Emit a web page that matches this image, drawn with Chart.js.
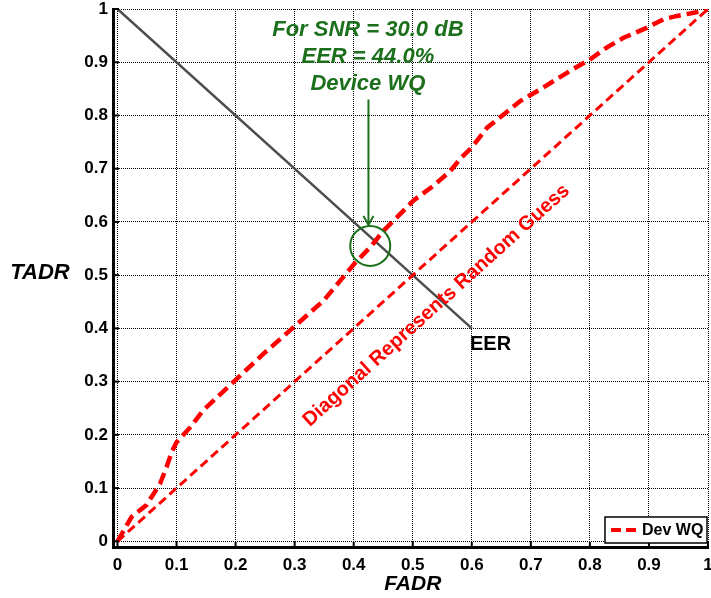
<!DOCTYPE html>
<html>
<head>
<meta charset="utf-8">
<script src="https://cdn.jsdelivr.net/npm/chart.js@4.4.1/dist/chart.umd.min.js"></script>
<style>
  body { margin: 0; background: #fff; }
  #wrap { width: 711px; height: 598px; }
</style>
</head>
<body>
<div id="wrap"><canvas id="roc" width="711" height="598"></canvas></div>
<script>
// ! Data
const fadr = [0, 0.024, 0.049, 0.061, 0.072, 0.083, 0.092, 0.1, 0.123, 0.145, 0.196, 0.247, 0.298, 0.349, 0.4, 0.43, 0.45, 0.479, 0.501, 0.535, 0.564, 0.58, 0.6, 0.626, 0.654, 0.682, 0.716, 0.739, 0.767, 0.801, 0.829, 0.857, 0.897, 0.925, 0.948, 0.976, 0.996, 1];
const tadr = [0, 0.046, 0.068, 0.089, 0.108, 0.139, 0.168, 0.186, 0.214, 0.246, 0.299, 0.352, 0.402, 0.452, 0.52, 0.555, 0.583, 0.615, 0.64, 0.668, 0.696, 0.718, 0.74, 0.777, 0.802, 0.827, 0.849, 0.865, 0.884, 0.906, 0.928, 0.946, 0.965, 0.981, 0.987, 0.993, 0.998, 1];
const diagX = [0, 1];
const diagY = [0, 1];
const eerX = [0, 0.6];
const eerY = [1, 0.4];
const eerPoint = [0.428, 0.555];

const xTicks = [0, 0.1, 0.2, 0.3, 0.4, 0.5, 0.6, 0.7, 0.8, 0.9, 1];
const yTicks = [0, 0.1, 0.2, 0.3, 0.4, 0.5, 0.6, 0.7, 0.8, 0.9, 1];
const tickLabels = ["0", "0.1", "0.2", "0.3", "0.4", "0.5", "0.6", "0.7", "0.8", "0.9", "1"];

const noteLines = ["For SNR = 30.0 dB", "EER = 44.0%", "Device WQ"];

const toPoints = (xs, ys) => xs.map((x, i) => ({ x: x, y: ys[i] }));

// ! Extra drawing: annotation, legend, axis names
const extras = {
  id: "extras",
  afterDraw(chart) {
    const { ctx, chartArea, scales } = chart;
    const sx = scales.x;
    const sy = scales.y;
    ctx.save();

    // small inward ticks
    ctx.strokeStyle = "#000";
    ctx.lineWidth = 2;
    xTicks.forEach((v) => {
      let px = sx.getPixelForValue(v);
      ctx.beginPath();
      ctx.moveTo(px, chartArea.bottom);
      ctx.lineTo(px, chartArea.bottom - 5);
      ctx.stroke();
    });
    yTicks.forEach((v) => {
      let py = sy.getPixelForValue(v);
      ctx.beginPath();
      ctx.moveTo(chartArea.left, py);
      ctx.lineTo(chartArea.left + 6, py);
      ctx.stroke();
    });

    // green circle + arrow + note
    let cx = sx.getPixelForValue(eerPoint[0]);
    let cy = sy.getPixelForValue(eerPoint[1]);
    ctx.strokeStyle = "#1c701c";
    ctx.lineWidth = 2;
    ctx.beginPath();
    ctx.arc(cx, cy, 20, 0, Math.PI * 2);
    ctx.stroke();

    let ax = sx.getPixelForValue(0.425);
    ctx.beginPath();
    ctx.moveTo(ax, sy.getPixelForValue(0.83));
    ctx.lineTo(ax, cy - 21);
    ctx.stroke();
    ctx.beginPath();
    ctx.moveTo(ax - 5, cy - 30);
    ctx.lineTo(ax, cy - 21);
    ctx.lineTo(ax + 5, cy - 30);
    ctx.stroke();

    ctx.fillStyle = "#1c701c";
    ctx.font = "italic bold 22px 'Liberation Sans', Arial, sans-serif";
    ctx.textAlign = "center";
    ctx.textBaseline = "middle";
    let nx = sx.getPixelForValue(0.424);
    noteLines.forEach((line, i) => {
      ctx.fillText(line, nx, sy.getPixelForValue(0.96 - i * 0.05));
    });

    // EER label
    ctx.fillStyle = "#000";
    ctx.font = "bold 20px 'Liberation Sans', Arial, sans-serif";
    ctx.textAlign = "left";
    ctx.fillText("EER", sx.getPixelForValue(0.597), sy.getPixelForValue(0.37));

    // diagonal text
    let dx = sx.getPixelForValue(0.54);
    let dy = sy.getPixelForValue(0.443);
    let ang = Math.atan2(sy.getPixelForValue(1) - sy.getPixelForValue(0), sx.getPixelForValue(1) - sx.getPixelForValue(0));
    ctx.save();
    ctx.translate(dx, dy);
    ctx.rotate(ang);
    ctx.fillStyle = "#ff0000";
    ctx.font = "bold 20px 'Liberation Sans', Arial, sans-serif";
    ctx.textAlign = "center";
    ctx.fillText("Diagonal Represents Random Guess", 0, 0);
    ctx.restore();

    // axis names
    ctx.fillStyle = "#000";
    ctx.font = "italic bold 22px 'Liberation Sans', Arial, sans-serif";
    ctx.textAlign = "center";
    ctx.fillText("TADR", 40, sy.getPixelForValue(0.5) - 2);
    ctx.font = "italic bold 21px 'Liberation Sans', Arial, sans-serif";
    ctx.fillText("FADR", sx.getPixelForValue(0.5), 584);

    // legend box
    let lx = 605, ly = 517, lw = 102, lh = 26;
    ctx.fillStyle = "#fff";
    ctx.fillRect(lx, ly, lw, lh);
    ctx.strokeStyle = "#000";
    ctx.lineWidth = 1.5;
    ctx.strokeRect(lx, ly, lw, lh);
    ctx.strokeStyle = "#ff0000";
    ctx.lineWidth = 4;
    ctx.setLineDash([10, 5]);
    ctx.beginPath();
    ctx.moveTo(lx + 6, ly + lh / 2);
    ctx.lineTo(lx + 32, ly + lh / 2);
    ctx.stroke();
    ctx.setLineDash([]);
    ctx.fillStyle = "#000";
    ctx.font = "bold 16px 'Liberation Sans', Arial, sans-serif";
    ctx.textAlign = "left";
    ctx.fillText(chart.data.datasets[0].label, lx + 37, ly + lh / 2 + 1);

    ctx.restore();
  },
};

const tickFont = { family: "'Liberation Sans', Arial, sans-serif", size: 17, weight: "bold" };

let ctxRoc = document.getElementById("roc");
new Chart(ctxRoc, {
  type: "line",
  data: {
    datasets: [
      {
        label: "Dev WQ",
        data: toPoints(fadr, tadr),
        borderColor: "#ff0000",
        borderWidth: 4.5,
        borderDash: [12, 6],
        pointRadius: 0,
        tension: 0,
        fill: false,
      },
      {
        label: "diag",
        data: toPoints(diagX, diagY),
        borderColor: "#ff0000",
        borderWidth: 3,
        borderDash: [9, 5],
        pointRadius: 0,
        fill: false,
      },
      {
        label: "eer",
        data: toPoints(eerX, eerY),
        borderColor: "#4d4d4d",
        borderWidth: 2.5,
        pointRadius: 0,
        fill: false,
      },
    ],
  },
  options: {
    responsive: false,
    animation: false,
    devicePixelRatio: 1,
    layout: { padding: { top: 9, right: 3, left: 0, bottom: 0 } },
    plugins: {
      legend: { display: false },
      tooltip: { enabled: false },
    },
    scales: {
      x: {
        type: "linear",
        min: -0.0076,
        max: 1,
        afterBuildTicks: (scale) => {
          scale.ticks = xTicks.map((v) => ({ value: v }));
        },
        afterFit: (scale) => {
          scale.height = 51;
          scale.paddingLeft = 0;
          scale.paddingRight = 0;
        },
        grid: { color: "#000", lineWidth: 1, drawTicks: false },
        border: { display: true, color: "#000", width: 3, dash: [1, 1] },
        ticks: {
          padding: 8,
          color: "#000",
          font: tickFont,
          maxRotation: 0,
          autoSkip: false,
          callback: (v, i) => tickLabels[i],
        },
      },
      y: {
        type: "linear",
        min: -0.0107,
        max: 1,
        afterBuildTicks: (scale) => {
          scale.ticks = yTicks.map((v) => ({ value: v }));
        },
        afterFit: (scale) => {
          scale.width = 113;
          scale.paddingTop = 0;
          scale.paddingBottom = 0;
        },
        grid: { color: "#000", lineWidth: 1, drawTicks: false },
        border: { display: true, color: "#000", width: 3, dash: [1, 1] },
        ticks: {
          padding: 5,
          color: "#000",
          font: tickFont,
          autoSkip: false,
          callback: (v, i) => tickLabels[i],
        },
      },
    },
  },
  plugins: [extras],
});
</script>
</body>
</html>
